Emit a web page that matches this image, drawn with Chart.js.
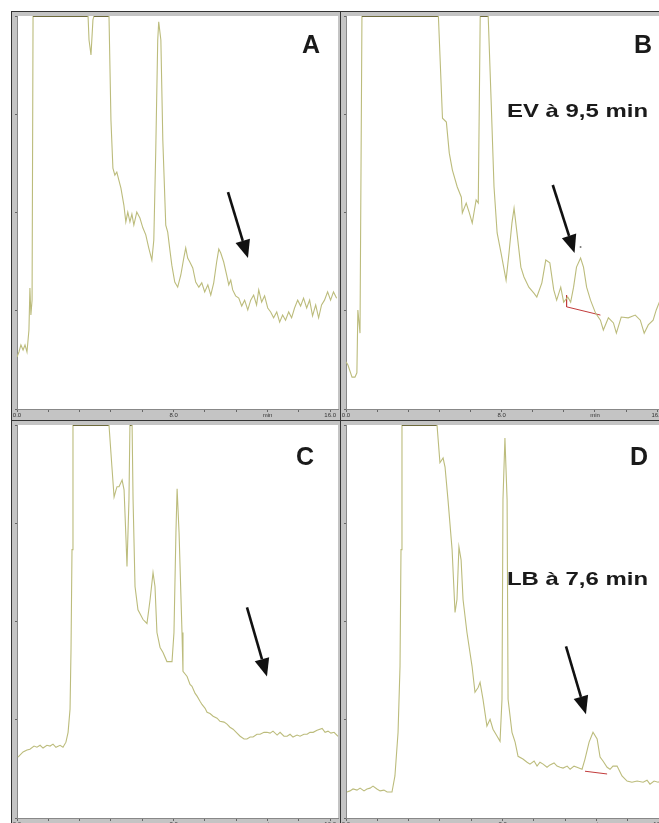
<!DOCTYPE html>
<html>
<head>
<meta charset="utf-8">
<script src="https://cdn.jsdelivr.net/npm/chart.js@4"></script>
<style>
  html, body { margin: 0; padding: 0; background: #fff; overflow: hidden; width: 659px; height: 823px; }
  .panel { position: absolute; width: 328px; height: 408px; background: #c4c4c4; border-left: 1px solid #333; border-top: 1px solid #333; }
  .panel canvas { display: block; }
  .tag { position: absolute; font-family: "Liberation Sans", Arial, sans-serif; font-weight: bold; color: #1a1a1a; line-height: 1; white-space: nowrap; }
  .big { font-size: 25px; }
  .note { font-size: 19px; transform-origin: 0 0; transform: scaleX(1.26); }
</style>
</head>
<body>
<div class="panel" style="left:11px;top:11px"><canvas id="chartA" width="328" height="408"></canvas></div>
<div class="panel" style="left:340px;top:11px"><canvas id="chartB" width="328" height="408"></canvas></div>
<div class="panel" style="left:11px;top:420px"><canvas id="chartC" width="328" height="408"></canvas></div>
<div class="panel" style="left:340px;top:420px"><canvas id="chartD" width="328" height="408"></canvas></div>

<div class="tag big" style="left:302px;top:32px">A</div>
<div class="tag big" style="left:634px;top:32px">B</div>
<div class="tag big" style="left:296px;top:444px">C</div>
<div class="tag big" style="left:630px;top:444px">D</div>
<div class="tag note" style="left:507px;top:101px">EV à 9,5 min</div>
<div class="tag note" style="left:507px;top:569px">LB à 7,6 min</div>

<script>
// time axis (min) and signal (% of full scale)
const xTickValues = [0, 1.6, 3.2, 4.8, 6.4, 8.0, 9.6, 11.2, 12.8, 14.4, 16.0];
const xTickLabels = ['0.0', '', '', '', '', '8.0', '', '', 'min', '', '16.0'];
const yTickValues = [0, 25, 50, 75, 100];

const timeA = [0.00,0.10,0.20,0.31,0.41,0.51,0.61,0.66,0.71,0.77,0.82,3.63,3.68,3.78,3.88,3.93,4.70,4.80,4.90,5.00,5.10,5.20,5.31,5.46,5.56,5.66,5.77,5.87,5.97,6.12,6.28,6.43,6.58,6.73,6.89,6.99,7.09,7.19,7.24,7.35,7.45,7.60,7.70,7.81,7.91,8.06,8.21,8.37,8.52,8.62,8.72,8.83,8.98,9.13,9.29,9.44,9.59,9.75,9.90,10.05,10.20,10.31,10.41,10.56,10.71,10.82,10.92,11.02,11.17,11.33,11.48,11.63,11.79,11.94,12.09,12.24,12.35,12.50,12.65,12.81,12.96,13.11,13.27,13.42,13.57,13.72,13.88,14.03,14.18,14.34,14.49,14.64,14.80,14.95,15.10,15.26,15.41,15.56,15.71,15.87,16.02,16.17,16.33];
const signalA = [13.2,14.5,16.3,15.0,16.3,14.5,20.1,30.8,23.9,27.7,100,100,93.9,90.1,99,100,100,73.5,61.3,59.5,60.3,58.3,56.2,51.9,47.6,50.1,47.6,49.6,46.8,50.1,48.6,46.1,44.3,41.0,37.9,43.0,65.9,93.9,98.5,93.9,68.4,46.8,45.0,40.5,36.6,32.3,31.0,34.1,38.4,41.0,38.4,37.4,35.9,32.3,31.0,32.1,29.8,31.6,29.0,32.1,37.4,40.7,39.7,37.4,34.1,31.6,32.8,30.3,28.8,28.2,26.2,27.7,25.2,27.7,29.0,26.5,30.3,27.2,28.8,25.7,24.7,23.2,24.7,22.1,23.9,22.6,24.7,23.2,25.7,27.7,26.2,28.2,25.7,27.7,23.7,26.5,23.2,26.5,27.7,29.8,27.7,29.8,28.2];

const timeB = [0.00,0.10,0.31,0.46,0.56,0.61,0.72,0.82,4.75,4.96,5.16,5.31,5.47,5.72,5.93,5.98,6.18,6.34,6.49,6.69,6.80,6.90,7.31,7.46,7.61,7.77,7.97,8.23,8.38,8.53,8.64,8.79,8.99,9.15,9.40,9.66,9.81,10.07,10.27,10.48,10.68,10.83,11.04,11.19,11.40,11.55,11.70,11.85,12.06,12.21,12.37,12.57,12.83,13.08,13.23,13.49,13.75,13.90,14.15,14.51,14.87,15.13,15.33,15.54,15.79,15.95,16.15,16.40];
const signalB = [12.0,11.2,8.1,8.1,9.2,25.2,19.3,100,100,74.0,73.0,65.1,60.8,56.5,53.9,49.9,52.4,49.9,47.3,53.2,52.4,100,100,78.6,56.5,44.8,39.7,32.8,39.7,47.3,51.1,44.8,36.1,33.6,31.0,29.5,28.5,32.1,37.9,37.2,30.3,27.7,31.0,27.2,28.5,27.2,31.0,36.1,38.4,36.1,31.0,27.7,24.4,22.6,20.1,23.2,21.9,19.3,23.4,23.2,23.9,22.6,19.3,21.4,22.6,25.2,27.7,26.5];
const baseTimeB = [11.34, 11.34, 13.08];
const baseSignalB = [29.0, 26.0, 23.9];
const markTimeB = [12.06];
const markSignalB = [41.2];

const timeC = [0.05,0.31,0.51,0.66,0.87,1.02,1.18,1.33,1.53,1.69,1.84,1.99,2.20,2.35,2.50,2.61,2.71,2.76,2.81,2.86,4.70,4.85,4.96,5.06,5.11,5.21,5.37,5.47,5.57,5.62,5.72,5.77,5.88,5.93,6.03,6.18,6.44,6.64,6.80,6.95,7.05,7.15,7.31,7.46,7.66,7.92,8.02,8.12,8.18,8.28,8.43,8.48,8.69,8.84,8.94,9.10,9.20,9.35,9.45,9.61,9.71,9.86,10.02,10.22,10.37,10.58,10.73,10.88,11.04,11.24,11.40,11.60,11.75,11.91,12.06,12.26,12.42,12.62,12.77,12.93,13.08,13.29,13.44,13.64,13.80,13.95,14.10,14.31,14.46,14.66,14.82,14.97,15.13,15.33,15.59,15.74,15.89,16.04,16.20,16.40];
const signalC = [15.5,16.8,17.3,17.5,18.3,18.0,18.5,17.8,18.5,18.3,18.8,18.0,18.5,18.0,19.3,21.8,27.7,42.9,68.3,100,100,89.3,81.7,83.5,84.3,84.3,86.0,83.5,70.8,64.0,81.0,100,100,81.0,58.9,53.0,50.5,49.5,55.6,62.4,58.9,47.2,43.4,42.1,39.8,39.8,47.2,72.6,83.8,72.6,47.2,37.3,36.0,34.0,33.5,31.7,31.0,29.7,28.9,27.9,26.9,26.6,25.9,25.4,24.6,24.4,23.9,23.1,22.6,21.6,20.8,20.1,20.1,20.6,20.6,21.3,21.3,21.8,21.8,21.6,22.1,21.1,21.8,20.8,20.8,21.3,20.6,21.1,20.8,21.3,21.3,21.8,21.8,22.3,22.8,21.8,22.1,21.6,21.8,20.8];

const timeD = [0.05,0.20,0.36,0.56,0.72,0.92,1.07,1.23,1.38,1.58,1.74,1.94,2.10,2.35,2.50,2.66,2.76,2.81,2.86,4.65,4.80,4.96,5.06,5.21,5.42,5.57,5.67,5.77,5.88,5.98,6.18,6.44,6.59,6.75,6.85,7.00,7.20,7.36,7.51,7.72,7.87,7.97,8.02,8.12,8.23,8.28,8.48,8.64,8.79,9.04,9.25,9.40,9.61,9.76,9.91,10.07,10.27,10.42,10.63,10.78,10.94,11.09,11.30,11.45,11.65,11.80,12.06,12.21,12.42,12.62,12.83,12.98,13.13,13.34,13.49,13.64,13.85,14.10,14.36,14.61,14.87,15.18,15.38,15.53,15.74,15.94,16.20];
const signalD = [6.6,6.9,7.4,7.1,7.6,6.9,7.4,7.6,8.1,7.4,6.9,7.1,6.6,6.6,10.7,21.8,38.6,68.3,100,100,90.4,91.6,89.3,81.0,68.3,52.3,55.6,69.0,65.7,55.6,47.2,38.6,32.0,33.2,34.5,30.2,23.4,25.1,22.6,20.8,19.5,30.2,81.0,96.7,81.0,30.2,21.8,19.3,15.7,15.0,14.2,13.7,14.5,13.2,14.2,13.7,12.9,13.5,14.0,13.2,12.9,12.7,13.2,12.4,13.2,12.9,12.4,15.0,19.3,21.8,20.1,15.5,14.5,12.9,12.4,13.2,13.2,10.7,9.4,9.1,9.4,9.1,9.6,8.6,9.4,9.1,9.6];
const baseTimeD = [12.21, 13.34];
const baseSignalD = [11.9, 11.2];

// arrow annotations: [tail time, tail signal, tip time, tip signal]
const arrowA = [10.78, 55.2, 11.80, 38.4];
const arrowB = [10.63, 57.0, 11.75, 39.7];
const arrowC = [11.75, 53.6, 12.77, 36.0];
const arrowD = [11.24, 43.7, 12.26, 26.4];

const traceColor = '#bcbc7c';
const saturatedColor = '#6e6a3c';
const baseColor = '#c23b3b';

function pts(xs, ys) {
    return xs.map((x, i) => ({ x: x, y: ys[i] }));
}

const panelPaint = {
    id: 'panelPaint',
    beforeDraw(chart) {
        const { ctx, chartArea: a } = chart;
        ctx.save();
        ctx.fillStyle = '#fff';
        ctx.fillRect(a.left, a.top, a.right - a.left, a.bottom - a.top);
        ctx.restore();
    },
    afterDatasetsDraw(chart, args, opts) {
        const arrow = opts.arrow;
        if (!arrow) return;
        const { ctx } = chart;
        const sx = chart.scales.x, sy = chart.scales.y;
        const x0 = sx.getPixelForValue(arrow[0]), y0 = sy.getPixelForValue(arrow[1]);
        const x1 = sx.getPixelForValue(arrow[2]), y1 = sy.getPixelForValue(arrow[3]);
        const ang = Math.atan2(y1 - y0, x1 - x0);
        const head = 18, half = 7.5;
        const bx = x1 - head * Math.cos(ang), by = y1 - head * Math.sin(ang);
        ctx.save();
        ctx.strokeStyle = '#111';
        ctx.fillStyle = '#111';
        ctx.lineWidth = 2.6;
        ctx.beginPath();
        ctx.moveTo(x0, y0);
        ctx.lineTo(bx, by);
        ctx.stroke();
        ctx.beginPath();
        ctx.moveTo(x1, y1);
        ctx.lineTo(bx + half * Math.sin(ang), by - half * Math.cos(ang));
        ctx.lineTo(bx - half * Math.sin(ang), by + half * Math.cos(ang));
        ctx.closePath();
        ctx.fill();
        ctx.restore();
    }
};

function makePanel(id, datasets, arrow) {
    new Chart(document.getElementById(id), {
        type: 'line',
        data: { datasets: datasets },
        options: {
            responsive: false,
            animation: false,
            events: [],
            layout: { padding: { top: 4, right: 2, left: 0, bottom: 0 } },
            scales: {
                x: {
                    type: 'linear',
                    min: 0,
                    max: 16.4,
                    afterFit(s) { s.height = 11; },
                    afterBuildTicks(s) { s.ticks = xTickValues.map(v => ({ value: v })); },
                    grid: { drawOnChartArea: false, tickLength: 3, color: '#666' },
                    border: { color: '#888' },
                    ticks: {
                        autoSkip: false,
                        maxRotation: 0,
                        padding: 0,
                        color: '#333',
                        font: { size: 6, family: 'Liberation Sans' },
                        callback: (v, i) => xTickLabels[i]
                    }
                },
                y: {
                    min: 0,
                    max: 100,
                    afterFit(s) { s.width = 5; },
                    afterBuildTicks(s) { s.ticks = yTickValues.map(v => ({ value: v })); },
                    grid: { drawOnChartArea: false, tickLength: 2, color: '#666' },
                    border: { color: '#888' },
                    ticks: { display: false }
                }
            },
            plugins: {
                legend: { display: false },
                tooltip: { enabled: false },
                panelPaint: { arrow: arrow }
            }
        },
        plugins: [panelPaint]
    });
}

// flat stretches at full scale are drawn darker, as the detector saturates there
function trace(xs, ys) {
    return {
        data: pts(xs, ys),
        borderColor: traceColor,
        borderWidth: 1.1,
        pointRadius: 0,
        tension: 0,
        segment: {
            borderColor: c => (c.p0.parsed.y >= 100 && c.p1.parsed.y >= 100) ? saturatedColor : traceColor,
            borderWidth: c => (c.p0.parsed.y >= 100 && c.p1.parsed.y >= 100) ? 2 : 1.1
        }
    };
}
function baseline(xs, ys) {
    return { data: pts(xs, ys), borderColor: baseColor, borderWidth: 1, pointRadius: 0, tension: 0 };
}

makePanel('chartA', [trace(timeA, signalA)], arrowA);
makePanel('chartB', [
    trace(timeB, signalB),
    baseline(baseTimeB, baseSignalB),
    { data: pts(markTimeB, markSignalB), showLine: false, pointRadius: 1, pointBackgroundColor: '#777', pointBorderWidth: 0 }
], arrowB);
makePanel('chartC', [trace(timeC, signalC)], arrowC);
makePanel('chartD', [trace(timeD, signalD), baseline(baseTimeD, baseSignalD)], arrowD);
</script>
</body>
</html>
